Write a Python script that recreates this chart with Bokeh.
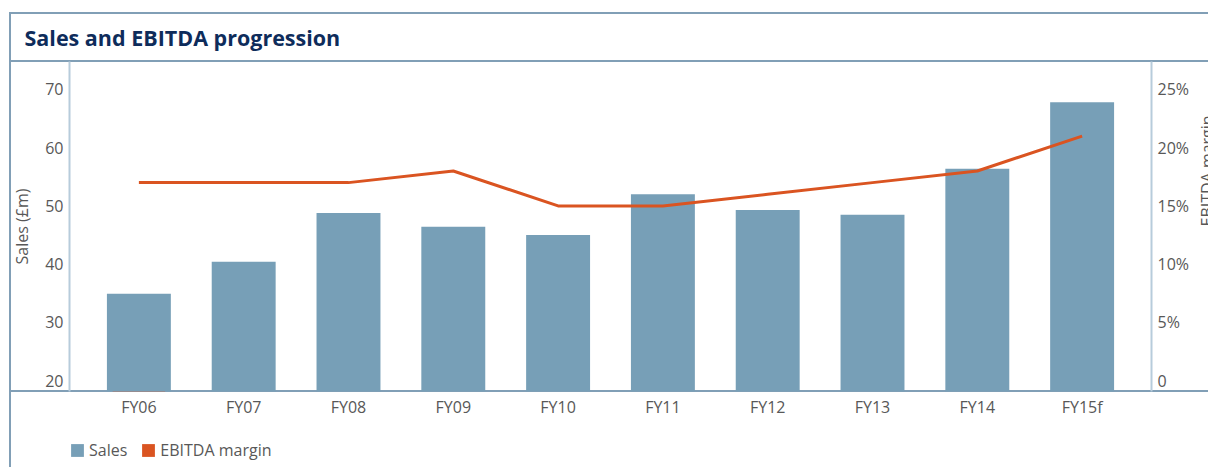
import math
from bokeh.plotting import figure
from bokeh.models import (FactorRange, Range1d, LinearAxis, FixedTicker, Legend, LegendItem,
                          ColumnDataSource, Title)
from bokeh.embed import file_html
from bokeh.resources import INLINE

# ---- data ----
categories = ["FY06", "FY07", "FY08", "FY09", "FY10", "FY11", "FY12", "FY13", "FY14", "FY15f"]
sales = [34.9, 40.4, 48.8, 46.4, 45.0, 52.0, 49.3, 48.5, 56.4, 67.8]
ebitda_margin = [17, 17, 17, 18, 15, 15, 16, 17, 18, 21]
sales_ticks = [20, 30, 40, 50, 60, 70]
margin_ticks = [0, 5, 10, 15, 20, 25]
margin_tick_labels = ["0", "5%", "10%", "15%", "20%", "25%"]

FONT = "Open Sans"
BAR = "#779FB7"
LINE = "#DA5421"
TXT = "#585858"
FRAME = "#819FB6"
AXL = "#B7CCDB"
TITLE = "#0E2C5B"

p = figure(frame_width=1082, frame_height=330, output_backend="svg", toolbar_location=None,
           x_range=FactorRange(factors=categories, range_padding=0.162, range_padding_units="absolute"),
           y_range=Range1d(18.11, 74.81),
           min_border_left=69, min_border_right=57, min_border_top=61, min_border_bottom=0)
p.outline_line_color = None
p.background_fill_color = None
p.border_fill_color = None
p.xgrid.grid_line_color = None
p.ygrid.grid_line_color = None
p.extra_y_ranges = {"margin": Range1d((18.11 - 20) / 2, (74.81 - 20) / 2)}

# decorative frame lines drawn as CSS backgrounds behind the transparent canvas
g = f"linear-gradient({FRAME},{FRAME})"
p.styles = {
    "width": "1208px",
    "height": "467px",
    "overflow": "hidden",
    "background-color": "white",
    "background-image": ", ".join([g] * 4),
    "background-position": "9px 12px, 9px 12px, 9px 60px, 9px 390px",
    "background-size": "1199px 2px, 2px 455px, 1199px 2px, 1199px 2px",
    "background-repeat": "no-repeat",
}

# title
p.title.text = "Sales and EBITDA progression"
p.title.align = "left"
p.title.offset = -45
p.title.standoff = 19
p.title.text_font = FONT
p.title.text_font_style = "bold"
p.title.text_font_size = "21.5px"
p.title.text_color = TITLE

src = ColumnDataSource(dict(cat=categories, sales=sales, margin=ebitda_margin))
bars = p.vbar(x="cat", top="sales", bottom=0, width=0.61, source=src, fill_color=BAR, line_color=None)
line = p.line(x="cat", y="margin", source=src, y_range_name="margin", line_color=LINE, line_width=3)
# zero-height bar (below the visible range) that only supplies the square legend swatch
legend_sq = p.vbar(x=categories[:1], top=[0], bottom=[0], width=0.5, fill_color=LINE, line_color=None)


def style_axis(ax):
    ax.major_tick_line_color = None
    ax.minor_tick_line_color = None
    ax.major_label_text_font = FONT
    ax.major_label_text_font_size = "16px"
    ax.major_label_text_color = TXT
    ax.axis_label_text_font = FONT
    ax.axis_label_text_font_size = "16px"
    ax.axis_label_text_font_style = "normal"
    ax.axis_label_text_color = TXT


# left axis
la = p.yaxis[0]
la.ticker = FixedTicker(ticks=sales_ticks)
style_axis(la)
la.axis_line_color = AXL
la.axis_line_width = 2
la.major_label_standoff = 0
la.axis_label = "Sales (£m)"
la.axis_label_standoff = 9

# right axis
ra = LinearAxis(y_range_name="margin", ticker=FixedTicker(ticks=margin_ticks),
                major_label_overrides={t: l for t, l in zip(margin_ticks, margin_tick_labels)})
style_axis(ra)
ra.axis_line_color = AXL
ra.axis_line_width = 2
ra.major_label_standoff = 0
ra.axis_label = "EBITDA margin"
ra.axis_label_standoff = 15
ra.axis_label_text_align = "center"
if "axis_label_orientation" in ra.properties():
    ra.axis_label_orientation = math.pi / 2
p.add_layout(ra, "right")

# bottom axis
xa = p.xaxis[0]
style_axis(xa)
xa.axis_line_color = None
xa.major_label_standoff = -2

# spacer between the category labels and the legend
p.add_layout(Title(text=" ", text_font=FONT, text_font_size="5px", standoff=0), "below")

legend = Legend(items=[LegendItem(label="Sales", renderers=[bars]),
                       LegendItem(label="EBITDA margin", renderers=[legend_sq])],
                location="top_left", orientation="horizontal", padding=0, margin=0, spacing=13,
                glyph_width=16, glyph_height=16, label_standoff=4, label_height=16,
                label_text_font=FONT, label_text_font_size="16px", label_text_color=TXT,
                border_line_color=None, background_fill_alpha=0)
p.add_layout(legend, "below")

open("out.html", "w").write(file_html(p, INLINE))
